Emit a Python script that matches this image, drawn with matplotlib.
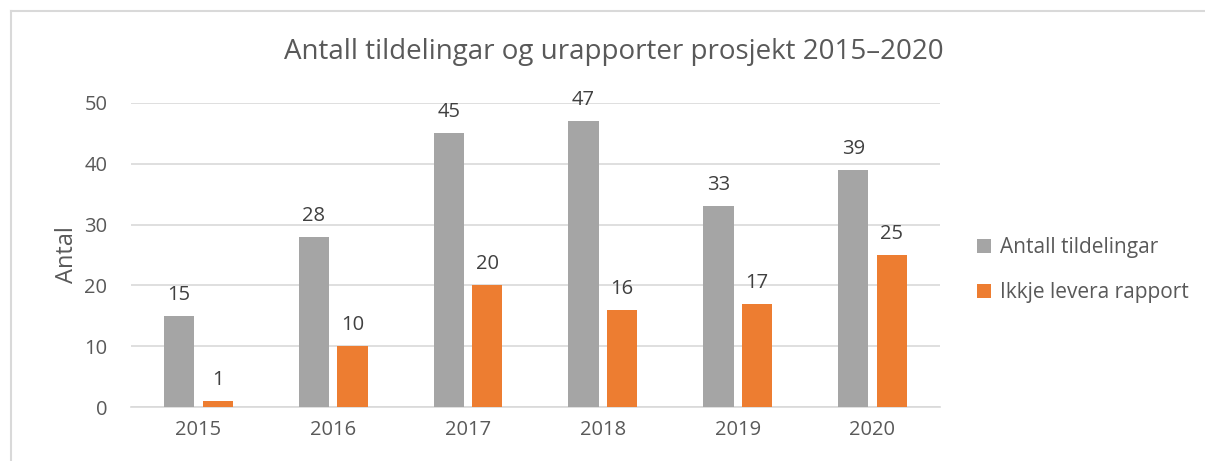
import numpy as np
import matplotlib.pyplot as plt
from matplotlib.lines import Line2D

# Data
years = ['2015', '2016', '2017', '2018', '2019', '2020']
tildelingar = [15, 28, 45, 47, 33, 39]
ikkje_levert = [1, 10, 20, 16, 17, 25]

grey = '#A5A5A5'
orange = '#ED7D31'
txt = '#595959'
grid_c = '#D9D9D9'

plt.rcParams['font.family'] = ['Open Sans', 'DejaVu Sans']

fig = plt.figure(figsize=(12.05, 4.61), dpi=100)
ax = fig.add_axes([0.1087, 0.1171, 0.6713, 0.6595])

x = np.arange(len(years))
w = 0.225
off = 0.143
b1 = ax.bar(x - off, tildelingar, w, color=grey, label='Antall tildelingar', zorder=3)
b2 = ax.bar(x + off, ikkje_levert, w, color=orange, label='Ikkje levera rapport', zorder=3)

for bars in (b1, b2):
    ax.bar_label(bars, padding=8, fontsize=14.5, color='#404040')

ax.set_xlim(-0.5, len(years) - 0.5)
ax.set_ylim(0, 50)
ax.set_yticks(range(0, 51, 10))
ax.set_xticks(x)
ax.set_xticklabels(years)
ax.tick_params(axis='both', length=0, labelsize=14.5, colors=txt)
ax.tick_params(axis='y', pad=17)
ax.tick_params(axis='x', pad=9)
ax.grid(axis='y', color=grid_c, linewidth=1.2, zorder=0)
for s in ['top', 'right', 'left']:
    ax.spines[s].set_visible(False)
ax.spines['bottom'].set_color(grid_c)
ax.spines['bottom'].set_linewidth(1.2)

ax.set_ylabel('Antal', fontsize=17, color=txt, labelpad=4)
fig.text(0.509, 0.888, 'Antall tildelingar og urapporter prosjekt 2015\u20132020',
         ha='center', va='center', fontsize=20, color=txt)

leg = fig.legend(loc='center left', bbox_to_anchor=(0.795, 0.414), frameon=False,
                 fontsize=15, handlelength=0.7, handleheight=0.7,
                 handletextpad=0.4, labelspacing=1.15, labelcolor=txt)

# outer frame (partly cropped)
fig.add_artist(Line2D([11 / 1205, 1.0], [1 - 11 / 461, 1 - 11 / 461],
                      color=grid_c, linewidth=1.5, transform=fig.transFigure))
fig.add_artist(Line2D([11 / 1205, 11 / 1205], [0.0, 1 - 11 / 461],
                      color=grid_c, linewidth=1.5, transform=fig.transFigure))

fig.savefig('out.png', dpi=100)
